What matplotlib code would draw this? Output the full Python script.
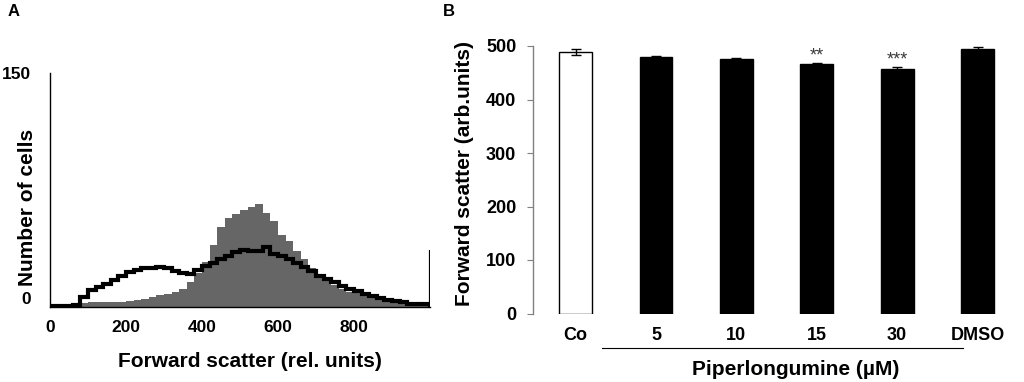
import matplotlib
matplotlib.use('Agg')
import matplotlib.pyplot as plt
import matplotlib.transforms as mtransforms
import numpy as np

plt.rcParams['font.family'] = ['Liberation Sans', 'DejaVu Sans']
plt.rcParams['font.weight'] = 'bold'

# panel A: forward scatter histograms (20-unit channels)
bin_edges = np.arange(0, 1001, 20)
grey_counts = [0, 0, 0, 0, 2.4, 3.0, 3.2, 3.3, 3.4, 3.5,
               3.8, 4.5, 5.3, 6.2, 7.4, 8.3, 9.5, 11.8, 16, 21.5,
               29, 40, 51, 57, 59.5, 62, 64, 66, 60, 55,
               46, 42, 36, 31, 25, 19.8, 16.5, 13.8, 11.8, 9.8,
               8.7, 7.8, 6.5, 5, 4, 2.8, 2.2, 1.6, 1.4, 1.2]
black_counts = [0.5, 0.5, 0.5, 1.5, 6.5, 11, 13, 14.5, 17, 20,
                22.5, 24, 25, 24.8, 25.4, 24.7, 23, 22, 21, 23.7,
                26, 28.5, 31, 33, 35.5, 36.5, 36, 36, 38.5, 34,
                32.5, 30.5, 28, 25.8, 23, 20, 17.8, 16, 13.5, 11.5,
                10.2, 8.5, 7.2, 6, 4.8, 3.8, 3, 1.9, 1.8, 1.8]
black_overflow = 36.5
hist_xticks = [0, 200, 400, 600, 800]

# panel B: mean forward scatter
groups = ['Co', '5', '10', '15', '30', 'DMSO']
fsc_mean = [489, 479, 476, 466, 457, 494]
fsc_err = [5, 3, 1.5, 3, 4, 5]
stars = ['', '', '', '**', '***', '']

fig = plt.figure(figsize=(10.24, 3.82), dpi=100)

# ---- A ----
ax1 = fig.add_axes([50/1024, 75/382, 380/1024, 234/382])
ax1.stairs(grey_counts, bin_edges, fill=True, color='#666666', zorder=1)
ax1.stairs(black_counts, bin_edges, color='black', lw=3.0, zorder=2)
ax1.vlines(bin_edges[-1], 0, black_overflow, color='black', lw=1.6, zorder=2)
ax1.set_xlim(0, 1000)
ax1.set_ylim(0, 150)
ax1.spines['top'].set_visible(False)
ax1.spines['right'].set_visible(False)
for s in ['left', 'bottom']:
    ax1.spines[s].set_linewidth(1.0)
ax1.set_xticks(hist_xticks)
ax1.set_yticks([0, 150])
ax1.tick_params(axis='x', length=0, pad=9, labelsize=12.5)
ax1.tick_params(axis='y', length=0, pad=14, labelsize=12.5)
ax1.get_yticklabels()[0].set_va('bottom')
ax1.set_xlabel('Forward scatter (rel. units)', fontsize=15, fontweight='bold', va='center')
ax1.xaxis.set_label_coords(0.526, -0.235)
ax1.set_ylabel('Number of cells', fontsize=15, fontweight='bold', va='center')
ax1.yaxis.set_label_coords(-0.058, 0.427)
fig.text(8/1024, 1 - 11/382, 'A', fontsize=12, fontweight='bold', ha='left', va='center')

# ---- B ----
ax2 = fig.add_axes([533/1024, 68.5/382, 484.7/1024, 267.5/382])
x = np.arange(len(groups))
colors = ['white'] + ['black'] * (len(groups) - 1)
ax2.bar(x, fsc_mean, width=0.41, color=colors, edgecolor='black', linewidth=1.0,
        yerr=fsc_err, capsize=3.5, error_kw=dict(ecolor='black', elinewidth=1.0, capthick=1.0))
for xi, m, e, s in zip(x, fsc_mean, fsc_err, stars):
    if s:
        ax2.text(xi, m + e + 13, s, ha='center', va='center', fontsize=13,
                 color='#3a3a3a', fontweight='normal')
ax2.set_xlim(-0.53, 5.5)
ax2.set_ylim(0, 500)
ax2.set_yticks(np.arange(0, 501, 100))
ax2.set_xticks(x)
ax2.set_xticklabels(groups)
for s in ['top', 'right', 'bottom']:
    ax2.spines[s].set_visible(False)
ax2.spines['left'].set_color('#808080')
ax2.spines['left'].set_linewidth(1.0)
ax2.tick_params(axis='y', length=4, color='#808080', pad=8, labelsize=13)
ax2.tick_params(axis='x', length=0, pad=10, labelsize=13)
ax2.set_ylabel('Forward scatter (arb.units)', fontsize=15, fontweight='bold', va='center')
ax2.yaxis.set_label_coords((464 - 533) / 484.7, (313.5 - 173) / 267.5)

# bracket line under the piperlongumine doses
trans = mtransforms.blended_transform_factory(ax2.transData, ax2.transAxes)
ax2.plot([0.33, 4.82], [-0.13, -0.13], color='black', lw=0.8, transform=trans, clip_on=False)
ax2.set_xlabel('Piperlongumine (µM)', fontsize=15, fontweight='bold', va='center')
ax2.xaxis.set_label_coords((796 - 533) / 484.7, -0.211)
fig.text(449/1024, 1 - 12/382, 'B', fontsize=12, fontweight='bold', ha='center', va='center')

plt.savefig('out.png', dpi=100)
